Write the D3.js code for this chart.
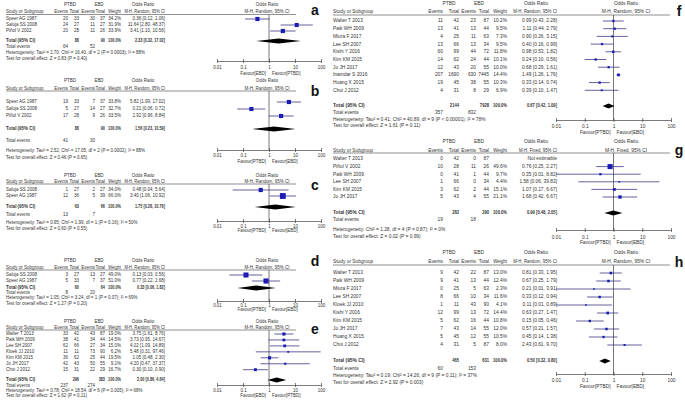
<!DOCTYPE html>
<html><head><meta charset="utf-8">
<script src="https://cdn.jsdelivr.net/npm/d3@7"></script>
<style>body{margin:0;background:#fff} svg{display:block} text{font-family:"Liberation Sans",Arial,sans-serif}</style>
</head><body><svg id="c" width="685" height="411"></svg>
<script>
// ---------------- DATA ----------------
const studiesA = ["Speer AG 1987","Saluja SS 2008","Piñol V 2002"];
const countsA = [[20,33,30,37],[24,27,11,27],[20,28,11,26]];
const weightsA = [34.2,31.9,33.9];
const oddsA = [[0.36,0.12,1.06],[11.64,2.80,48.37],[3.41,1.10,10.56]];
const totalA = [88,90,64,52,2.33,0.32,17.02];
const hetA = "Heterogeneity: Tau² = 2.70; Chi² = 16.40, df = 2 (P = 0.0003); I² = 88%";
const testA = "Test for overall effect: Z = 0.83 (P = 0.40)";

const studiesB = ["Speer AG 1987","Saluja SS 2008","Piñol V 2002"];
const countsB = [[19,33,7,37],[5,27,14,27],[17,28,9,26]];
const weightsB = [33.8,32.7,33.5];
const oddsB = [[5.82,1.99,17.02],[0.21,0.06,0.72],[2.92,0.96,8.84]];
const totalB = [88,90,41,30,1.56,0.23,10.59];
const hetB = "Heterogeneity: Tau² = 2.52; Chi² = 17.05, df = 2 (P = 0.0002); I² = 88%";
const testB = "Test for overall effect: Z = 0.46 (P = 0.65)";

const studiesC = ["Saluja SS 2008","Speer AG 1987"];
const countsC = [[1,27,2,27],[12,36,5,39]];
const weightsC = [34.0,66.0];
const oddsC = [[0.48,0.04,5.64],[3.40,1.06,10.92]];
const totalC = [63,66,13,7,1.75,0.28,10.76];
const hetC = "Heterogeneity: Tau² = 0.95; Chi² = 1.99, df = 1 (P = 0.16); I² = 50%";
const testC = "Test for overall effect: Z = 0.60 (P = 0.55)";

const studiesD = ["Saluja SS 2008","Speer AG 1987"];
const countsD = [[3,27,13,27],[5,33,7,37]];
const weightsD = [49.0,51.0];
const oddsD = [[0.13,0.03,0.56],[0.77,0.22,2.68]];
const totalD = [60,64,8,20,0.33,0.06,1.82];
const hetD = "Heterogeneity: Tau² = 1.05; Chi² = 3.24, df = 1 (P = 0.07); I² = 69%";
const testD = "Test for overall effect: Z = 1.27 (P = 0.20)";

const studiesE = ["Walter T 2013","Paik WH 2009","Lee SH 2007","Kloek JJ 2010","Kim KM 2015","Jo JH 2017","Choi J 2012"];
const countsE = [[33,42,43,87],[38,41,34,44],[62,66,27,34],[11,11,73,90],[36,62,25,44],[42,43,50,55],[15,31,22,29]];
const weightsE = [19.0,14.5,15.0,6.2,19.5,9.1,16.7];
const oddsE = [[3.75,1.61,8.76],[3.73,0.95,14.67],[4.02,1.09,14.89],[5.48,0.31,97.46],[1.05,0.48,2.30],[4.20,0.47,37.37],[0.30,0.10,0.90]];
const totalE = [296,383,237,274,2.00,0.86,4.64];
const hetE = "Heterogeneity: Tau² = 0.78; Chi² = 18.54, df = 6 (P = 0.005); I² = 68%";
const testE = "Test for overall effect: Z = 1.62 (P = 0.11)";

const studiesF = ["Walter T 2013","Paik WH 2009","Miura F 2017","Lee SH 2007","Kishi Y 2016","Kim KM 2015","Jo JH 2017","Inamdar S 2016","Huang X 2015","Choi J 2012"];
const countsF = [[11,42,23,87],[13,41,13,44],[4,25,11,63],[13,66,13,34],[60,99,44,72],[14,62,24,44],[12,43,20,55],[207,1690,630,7445],[19,45,38,55],[4,31,8,29]];
const weightsF = [10.2,9.5,7.3,9.5,11.8,10.1,10.0,14.4,10.3,6.9];
const oddsF = [[0.99,0.43,2.28],[1.11,0.44,2.79],[0.90,0.26,3.15],[0.40,0.16,0.99],[0.98,0.53,1.82],[0.24,0.10,0.56],[0.68,0.29,1.61],[1.49,1.26,1.76],[0.33,0.14,0.74],[0.39,0.10,1.47]];
const totalF = [2144,7928,357,832,0.67,0.42,1.09];
const hetF = "Heterogeneity: Tau² = 0.41; Chi² = 40.89, df = 9 (P < 0.00001); I² = 78%";
const testF = "Test for overall effect: Z = 1.61 (P = 0.11)";

const studiesG = ["Walter T 2013","Piñol V 2002","Paik WH 2009","Lee SH 2007","Kim KM 2015","Jo JH 2017"];
const countsG = [[0,42,0,87],[10,28,11,26],[0,41,1,44],[1,66,0,34],[3,62,2,44],[5,43,4,55]];
const weightsG = [null,49.6,9.7,4.4,15.1,21.1];
const oddsG = [null,[0.76,0.25,2.27],[0.35,0.01,8.82],[1.58,0.06,39.83],[1.07,0.17,6.67],[1.68,0.42,6.67]];
const totalG = [282,290,19,18,0.99,0.48,2.05];
const hetG = "Heterogeneity: Chi² = 1.28, df = 4 (P = 0.87); I² = 0%";
const testG = "Test for overall effect: Z = 0.02 (P = 0.99)";

const studiesH = ["Walter T 2013","Paik WH 2009","Miura F 2017","Lee SH 2007","Kloek JJ 2010","Kishi Y 2016","Kim KM 2015","Jo JH 2017","Huang X 2015","Choi J 2012"];
const countsH = [[9,42,22,87],[9,41,13,44],[0,25,5,63],[8,66,10,34],[1,11,43,90],[12,99,13,72],[5,62,16,44],[7,43,14,55],[5,45,12,55],[4,31,5,87]];
const weightsH = [13.0,12.4,2.3,11.6,4.1,14.4,10.8,12.0,10.5,8.0];
const oddsH = [[0.81,0.33,1.95],[0.67,0.25,1.79],[0.21,0.01,3.91],[0.33,0.12,0.94],[0.11,0.01,0.89],[0.63,0.27,1.47],[0.15,0.05,0.46],[0.57,0.21,1.57],[0.45,0.14,1.38],[2.43,0.61,9.70]];
const totalH = [465,631,60,153,0.50,0.32,0.80];
const hetH = "Heterogeneity: Tau² = 0.19; Chi² = 14.26, df = 9 (P = 0.11); I² = 37%";
const testH = "Test for overall effect: Z = 2.92 (P = 0.003)";

const tickValues = [0.01,0.1,1,10,100];
const methodRandom = "M-H, Random, 95% CI";
const methodFixed = "M-H, Fixed, 95% CI";
const favourPE = ["Favour[PTBD]","Favour[EBD]"];
const favourEP = ["Favour[EBD]","Favour[PTBD]"];

// ---------------- DRAWING ----------------
const svg = d3.select("#c");
const TXT = "#333", CI = "#3b3b86", SQ = "#1c1cb4";

const colLeft = {fs:5.1, sx:0.88, name:6, e1:68, t1:79, e2:95, t2:105, w:121, ci:165, ptbd:70, ebd:99, or:143, plot:[217,321], plotC:267, letter:315, line:[6,296]};
const colRight = {fs:5.5, sx:0.88, name:333, e1:443, t1:459, e2:476, t2:489, w:507, ci:557, ptbd:449, ebd:479, or:536, plot:[556,671], plotC:626, letter:679, line:[333,670]};

function panel(p, C, L) {
  const g = svg.append("g");
  const t = (x, y, s, anchor, bold, sx) => g.append("text")
    .attr("transform", `translate(${x},${y}) scale(${sx || C.sx},1)`).attr("text-anchor", anchor || "start")
    .attr("dominant-baseline", "middle").attr("font-size", C.fs)
    .attr("font-weight", bold ? "bold" : "normal").attr("fill", TXT).text(s);
  const x = d3.scaleLog().domain([0.01, 100]).range(C.plot);
  const y = d3.scaleLinear().domain([0, 1]).range([L.r0, L.r0 + L.step]);
  // headers
  t(C.ptbd, L.h1, "PTBD", "middle");
  t(C.ebd, L.h1, "EBD", "middle");
  t(C.or, L.h1, "Odds Ratio", "middle");
  t(C.plotC, L.h1, "Odds Ratio", "middle");
  t(C.name, L.h2, "Study or Subgroup", "start");
  t(C.e1, L.h2, "Events", "end");
  t(C.t1, L.h2, "Total", "end");
  t(C.e2, L.h2, "Events", "end");
  t(C.t2, L.h2, "Total", "end");
  t(C.w, L.h2, "Weight", "end", false, C.sx * 0.92);
  t(C.ci, L.h2, p.method, "end", false, C.sx * 0.9);
  t(C.plotC, L.h2, p.method, "middle");
  g.append("line").attr("x1", C.line[0]).attr("x2", C.line[1]).attr("y1", L.line).attr("y2", L.line)
    .attr("stroke", "#444").attr("stroke-width", 0.6);
  g.append("text").attr("x", C.letter).attr("y", L.letter).attr("text-anchor", "middle")
    .attr("dominant-baseline", "middle").attr("font-size", 14).attr("font-weight", "bold")
    .attr("fill", "#111").text(p.letter);
  // null line
  g.append("line").attr("x1", x(1)).attr("x2", x(1)).attr("y1", L.line).attr("y2", L.axis)
    .attr("stroke", "#555").attr("stroke-width", 0.8);
  // rows
  p.studies.forEach((s, i) => {
    const yy = y(i), c = p.counts[i], w = p.weights[i], o = p.odds[i];
    t(C.name, yy, s);
    t(C.e1, yy, c[0], "end"); t(C.t1, yy, c[1], "end");
    t(C.e2, yy, c[2], "end"); t(C.t2, yy, c[3], "end");
    t(C.w, yy, w == null ? "" : w.toFixed(1) + "%", "end");
    if (o == null) { t(C.ci, yy, "Not estimable", "end"); return; }
    t(C.ci, yy, `${o[0].toFixed(2)} [${o[1].toFixed(2)}, ${o[2].toFixed(2)}]`, "end");
    g.append("line").attr("x1", x(Math.max(o[1], 0.01))).attr("x2", x(Math.min(o[2], 100)))
      .attr("y1", yy).attr("y2", yy).attr("stroke", CI).attr("stroke-width", 0.8);
    const sz = Math.max(1.6, 0.72 * Math.sqrt(w));
    g.append("rect").attr("x", x(o[0]) - sz / 2).attr("y", yy - sz / 2).attr("width", sz).attr("height", sz).attr("fill", SQ);
  });
  // totals
  const T = p.total, tsx = C.sx * 0.85;
  t(C.name, L.total, "Total (95% CI)", "start", true);
  t(C.t1, L.total, T[0], "end", true, tsx);
  t(C.t2, L.total, T[1], "end", true, tsx);
  t(C.w, L.total, "100.0%", "end", true, tsx);
  t(C.ci, L.total, `${T[4].toFixed(2)} [${T[5].toFixed(2)}, ${T[6].toFixed(2)}]`, "end", true, tsx);
  const dh = 2.6;
  g.append("path").attr("d", `M${x(T[5])},${L.total}L${x(T[4])},${L.total - dh}L${x(T[6])},${L.total}L${x(T[4])},${L.total + dh}Z`).attr("fill", "#000");
  t(C.name, L.tev, "Total events");
  t(C.e1, L.tev, T[2], "end");
  t(C.e2, L.tev, T[3], "end");
  t(C.name, L.het, p.het);
  t(C.name, L.test, p.test);
  // axis
  const ax = g.append("g").attr("transform", `translate(0,${L.axis})`)
    .call(d3.axisBottom(x).tickValues(tickValues).tickFormat(d3.format("~g")).tickSizeOuter(0).tickSizeInner(2).tickPadding(L.tick - L.axis - 4));
  ax.select(".domain").attr("stroke", "#444").attr("stroke-width", 0.7);
  ax.selectAll(".tick line").attr("y1", -2).attr("y2", 2).attr("stroke", "#444").attr("stroke-width", 0.7);
  ax.selectAll(".tick text").attr("font-size", C.fs).attr("fill", TXT)
    .attr("font-family", "Liberation Sans, Arial, sans-serif").attr("transform", `scale(${C.sx},1)`);
  t(x(1) - 3, L.fav, p.favour[0], "end");
  t(x(1) + 3, L.fav, p.favour[1], "start");
}

const mk = (letter, studies, counts, weights, odds, total, het, test, method, favour) =>
  ({letter, studies, counts, weights, odds, total, het, test, method, favour});

panel(mk("a", studiesA, countsA, weightsA, oddsA, totalA, hetA, testA, methodRandom, favourEP), colLeft,
  {h1:5, h2:12, line:14.5, r0:19, step:6, total:41, tev:47, het:53, test:59, axis:61, tick:67, fav:74, letter:11});
panel(mk("b", studiesB, countsB, weightsB, oddsB, totalB, hetB, testB, methodRandom, favourPE), colLeft,
  {h1:81, h2:89, line:91, r0:102, step:7, total:129, tev:141, het:151, test:158, axis:150, tick:155, fav:162, letter:92});
panel(mk("c", studiesC, countsC, weightsC, oddsC, totalC, hetC, testC, methodRandom, favourPE), colLeft,
  {h1:176, h2:182, line:184, r0:190, step:6, total:207, tev:215, het:223, test:229, axis:221, tick:226, fav:231, letter:186});
panel(mk("d", studiesD, countsD, weightsD, oddsD, totalD, hetD, testD, methodRandom, favourPE), colLeft,
  {h1:261, h2:268, line:270, r0:275, step:6, total:288, tev:293, het:298, test:304, axis:301, tick:305, fav:310, letter:262});
panel(mk("e", studiesE, countsE, weightsE, oddsE, totalE, hetE, testE, methodRandom, favourEP), colLeft,
  {h1:322, h2:328, line:330, r0:334, step:5.95, total:380, tev:386, het:391, test:396, axis:385, tick:390, fav:396, letter:330});
panel(mk("f", studiesF, countsF, weightsF, oddsF, totalF, hetF, testF, methodRandom, favourPE), colRight,
  {h1:4, h2:12, line:15, r0:21, step:7.7, total:106, tev:113, het:120, test:126, axis:120, tick:126, fav:133, letter:12});
panel(mk("g", studiesG, countsG, weightsG, oddsG, totalG, hetG, testG, methodFixed, favourPE), colRight,
  {h1:142, h2:151, line:153, r0:159, step:7.6, total:213, tev:220, het:230, test:237, axis:230, tick:237, fav:243, letter:151});
panel(mk("h", studiesH, countsH, weightsH, oddsH, totalH, hetH, testH, methodRandom, favourPE), colRight,
  {h1:253, h2:262, line:265, r0:273, step:8, total:361, tev:369, het:376, test:383, axis:374, tick:380, fav:387, letter:263});
</script>
</body></html>
